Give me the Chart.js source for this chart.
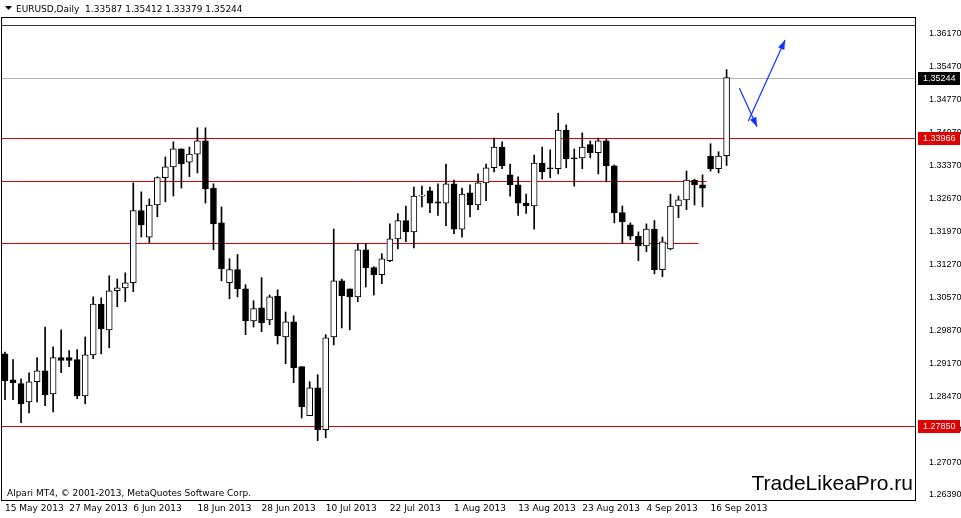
<!DOCTYPE html>
<html><head><meta charset="utf-8">
<script src="https://cdn.jsdelivr.net/npm/chart.js@4/dist/chart.umd.min.js"></script>
<style>html,body{margin:0;padding:0;background:#fff}#w{width:961px;height:518px}</style>
</head><body><div id="w"><canvas id="c"></canvas></div>
<script>
const openV=[1.2938,1.2883,1.2875,1.2836,1.2879,1.2902,1.2853,1.2930,1.2930,1.2926,1.2849,1.2936,1.3044,1.2989,1.3072,1.3078,1.3089,1.3242,1.3186,1.3254,1.3312,1.3335,1.3373,1.3345,1.3362,1.3390,1.3290,1.3216,1.3089,1.3117,1.3076,1.3008,1.3036,1.3010,1.3061,1.2974,1.3006,1.2911,1.2807,1.2866,1.2777,1.2974,1.3093,1.3076,1.3059,1.3159,1.3121,1.3106,1.3136,1.3182,1.3221,1.3197,1.3273,1.3284,1.3261,1.3258,1.3299,1.3203,1.3280,1.3254,1.3301,1.3333,1.3377,1.3318,1.3297,1.3258,1.3252,1.3343,1.3333,1.3331,1.3413,1.3354,1.3354,1.3382,1.3365,1.3390,1.3337,1.3238,1.3212,1.3188,1.3167,1.3203,1.3117,1.3161,1.3252,1.3265,1.3307,1.3297,1.3358,1.3331,1.33587];
const highV=[1.2942,1.2926,1.2885,1.2898,1.2930,1.2995,1.2953,1.2989,1.2945,1.2947,1.2974,1.3059,1.3057,1.3104,1.3097,1.3110,1.3301,1.3282,1.3267,1.3314,1.3356,1.3388,1.3373,1.3377,1.3418,1.3418,1.3299,1.3250,1.3140,1.3149,1.3085,1.3051,1.3100,1.3063,1.3074,1.3027,1.3019,1.2911,1.2879,1.2894,1.2979,1.3203,1.3097,1.3076,1.3172,1.3172,1.3123,1.3151,1.3214,1.3236,1.3252,1.3292,1.3294,1.3292,1.3299,1.3341,1.3307,1.3290,1.3297,1.3320,1.3341,1.3396,1.3388,1.3341,1.3314,1.3277,1.3360,1.3377,1.3371,1.3449,1.3424,1.3373,1.3407,1.3390,1.3396,1.3394,1.3339,1.3252,1.3216,1.3197,1.3214,1.3221,1.3186,1.3277,1.3273,1.3326,1.3309,1.3318,1.3384,1.3367,1.35412];
const lowV=[1.2841,1.2841,1.2792,1.2813,1.2836,1.2828,1.2815,1.2898,1.2911,1.2843,1.2832,1.2928,1.2938,1.2951,1.3038,1.3049,1.3070,1.3186,1.3174,1.3229,1.3261,1.3273,1.3290,1.3314,1.3322,1.3258,1.3159,1.3093,1.3055,1.3059,1.2979,1.2995,1.2985,1.3000,1.2959,1.2917,1.2877,1.2802,1.2807,1.2754,1.2760,1.2957,1.2993,1.2989,1.3049,1.3080,1.3063,1.3087,1.3134,1.3161,1.3176,1.3163,1.3250,1.3238,1.3232,1.3210,1.3193,1.3186,1.3229,1.3244,1.3263,1.3324,1.3331,1.3273,1.3232,1.3236,1.3203,1.3309,1.3312,1.3320,1.3333,1.3294,1.3331,1.3354,1.3320,1.3303,1.3216,1.3172,1.3180,1.3136,1.3155,1.3108,1.3102,1.3159,1.3227,1.3244,1.3254,1.3250,1.3326,1.3322,1.33379];
const closeV=[1.2881,1.2877,1.2832,1.2879,1.2902,1.2851,1.2930,1.2924,1.2924,1.2849,1.2936,1.3044,1.2991,1.3072,1.3078,1.3089,1.3242,1.3212,1.3254,1.3312,1.3335,1.3373,1.3341,1.3362,1.3390,1.3288,1.3214,1.3119,1.3117,1.3076,1.3008,1.3034,1.3004,1.3059,1.2976,1.3006,1.2909,1.2826,1.2866,1.2777,1.2972,1.3093,1.3061,1.3059,1.3159,1.3121,1.3106,1.3140,1.3182,1.3221,1.3197,1.3273,1.3275,1.3258,1.3258,1.3299,1.3203,1.3277,1.3254,1.3301,1.3333,1.3377,1.3337,1.3297,1.3258,1.3252,1.3343,1.3324,1.3331,1.3413,1.3352,1.3352,1.3377,1.3365,1.3390,1.3337,1.3238,1.3218,1.3188,1.3167,1.3203,1.3117,1.3176,1.3252,1.3265,1.3307,1.3297,1.3290,1.3331,1.3358,1.35244];
const totalSlots=114;
const dateTicks={0:"15 May 2013",8:"27 May 2013",16:"6 Jun 2013",24:"18 Jun 2013",32:"28 Jun 2013",40:"10 Jul 2013",48:"22 Jul 2013",56:"1 Aug 2013",64:"13 Aug 2013",72:"23 Aug 2013",80:"4 Sep 2013",88:"16 Sep 2013"};
const priceTicks=[1.26390,1.27070,1.27770,1.28470,1.29170,1.29870,1.30570,1.31270,1.31970,1.32670,1.33370,1.34070,1.34770,1.35470,1.36170];
// horizontal levels: [price, fromIndex, toIndex(null=full), colour, boxed label]
const levels=[[1.3636,null,null,'#333',false],[1.35244,null,null,'#b0b0b0',true],[1.33966,null,null,'#e00000',true],[1.3305,-1,87.5,'#e00000',false],[1.3174,-1,86.5,'#e00000',false],[1.27850,null,null,'#e00000',true]];
// arrows: [fromIndex, fromPrice, toIndex, toPrice]
const arrows=[[91.6,1.3502,93.8,1.3420],[92.7,1.3432,97.3,1.3604]];

const labels=[];
for(let i=0;i<totalSlots;i++)labels.push(i);
const n=openV.length;
const wick=[],body=[],bodyFill=[];
for(let i=0;i<n;i++){
  wick.push([lowV[i],highV[i]]);
  let o=openV[i],c=closeV[i];
  if(Math.abs(o-c)<0.00005){c=o+(c>=o?0.00005:-0.00005);}
  body.push([o,c]);
  bodyFill.push(closeV[i]>=openV[i]?'#ffffff':'#000000');
}
const overlay={
  id:'overlay',
  beforeDatasetsDraw(ch){
    const ctx=ch.ctx,y=ch.scales.y,x=ch.scales.x,a=ch.chartArea;
    const step=x.getPixelForValue(1)-x.getPixelForValue(0);
    ctx.save();
    levels.forEach(l=>{
      const py=Math.round(y.getPixelForValue(l[0]))+0.5;
      const x0=l[1]==null?a.left:Math.max(a.left,x.getPixelForValue(0)+l[1]*step);
      const x1=l[2]==null?a.right:x.getPixelForValue(0)+l[2]*step;
      ctx.strokeStyle=l[3];ctx.lineWidth=1;ctx.beginPath();ctx.moveTo(x0,py);ctx.lineTo(x1,py);ctx.stroke();
    });
    ctx.restore();
  },
  afterDraw(ch){
    const ctx=ch.ctx,y=ch.scales.y,x=ch.scales.x,a=ch.chartArea;
    ctx.save();
    ctx.strokeStyle='#000';ctx.lineWidth=1;
    ctx.strokeRect(a.left+0.5,a.top+0.5,a.right-a.left,a.bottom-a.top);
    levels.forEach(l=>{
      if(!l[4])return;
      const py=Math.round(y.getPixelForValue(l[0]));
      const bg=l[3]==='#b0b0b0'?'#000':l[3];
      ctx.fillStyle=bg;ctx.fillRect(a.right+3,py-6,42,13);
      ctx.fillStyle='#fff';ctx.font='9px "Liberation Sans"';ctx.textBaseline='middle';ctx.textAlign='left';
      ctx.fillText(l[0].toFixed(5),a.right+8,py+1);
    });
    ctx.strokeStyle='#1030ff';ctx.fillStyle='#1030ff';ctx.lineWidth=1.2;
    arrows.forEach(r=>{
      const x0=x.getPixelForValue(r[0]),y0=y.getPixelForValue(r[1]),x1=x.getPixelForValue(r[2]),y1=y.getPixelForValue(r[3]);
      ctx.beginPath();ctx.moveTo(x0,y0);ctx.lineTo(x1,y1);ctx.stroke();
      const ang=Math.atan2(y1-y0,x1-x0),L=10;
      ctx.beginPath();ctx.moveTo(x1,y1);
      ctx.lineTo(x1-L*Math.cos(ang-0.35),y1-L*Math.sin(ang-0.35));
      ctx.lineTo(x1-L*Math.cos(ang+0.35),y1-L*Math.sin(ang+0.35));ctx.closePath();ctx.fill();
    });
    ctx.fillStyle='#000';ctx.textBaseline='alphabetic';ctx.textAlign='left';
    ctx.font='9px "DejaVu Sans"';
    ctx.fillText('EURUSD,Daily  1.33587 1.35412 1.33379 1.35244',16,12);
    ctx.beginPath();ctx.moveTo(5,6);ctx.lineTo(12,6);ctx.lineTo(8.5,10);ctx.closePath();ctx.fill();
    ctx.fillText('Alpari MT4, © 2001-2013, MetaQuotes Software Corp.',7,496);
    ctx.font='21px "Liberation Sans"';ctx.textAlign='right';
    ctx.fillText('TradeLikeaPro.ru',913,490);
    ctx.restore();
  }
};
new Chart(document.getElementById('c'),{
  type:'bar',
  data:{labels,datasets:[
    {data:wick,backgroundColor:'#000',borderWidth:0,barThickness:1,grouped:false,order:2},
    {data:body,backgroundColor:bodyFill,borderColor:'#000',borderWidth:1,borderSkipped:false,barThickness:6,grouped:false,order:1}
  ]},
  options:{
    responsive:true,maintainAspectRatio:false,animation:false,
    layout:{padding:{top:17,left:1,right:0,bottom:0}},
    plugins:{legend:{display:false},tooltip:{enabled:false}},
    scales:{
      x:{offset:true,grid:{display:false,drawTicks:false},border:{display:false},
        afterFit(s){s.height=18;},
        ticks:{autoSkip:false,maxRotation:0,align:'start',padding:3,color:'#000',font:{family:'DejaVu Sans',size:9},
          callback:(v,i)=>dateTicks[i]||''}},
      y:{position:'right',min:1.2628,max:1.3653,
        afterBuildTicks(s){s.ticks=priceTicks.map(v=>({value:v}));},
        afterFit(s){s.width=46;},
        grid:{display:false},border:{display:false},
        ticks:{color:'#000',padding:6,font:{family:'Liberation Sans',size:9},callback:v=>v.toFixed(5)}}
    }
  },
  plugins:[overlay]
});
</script></body></html>
